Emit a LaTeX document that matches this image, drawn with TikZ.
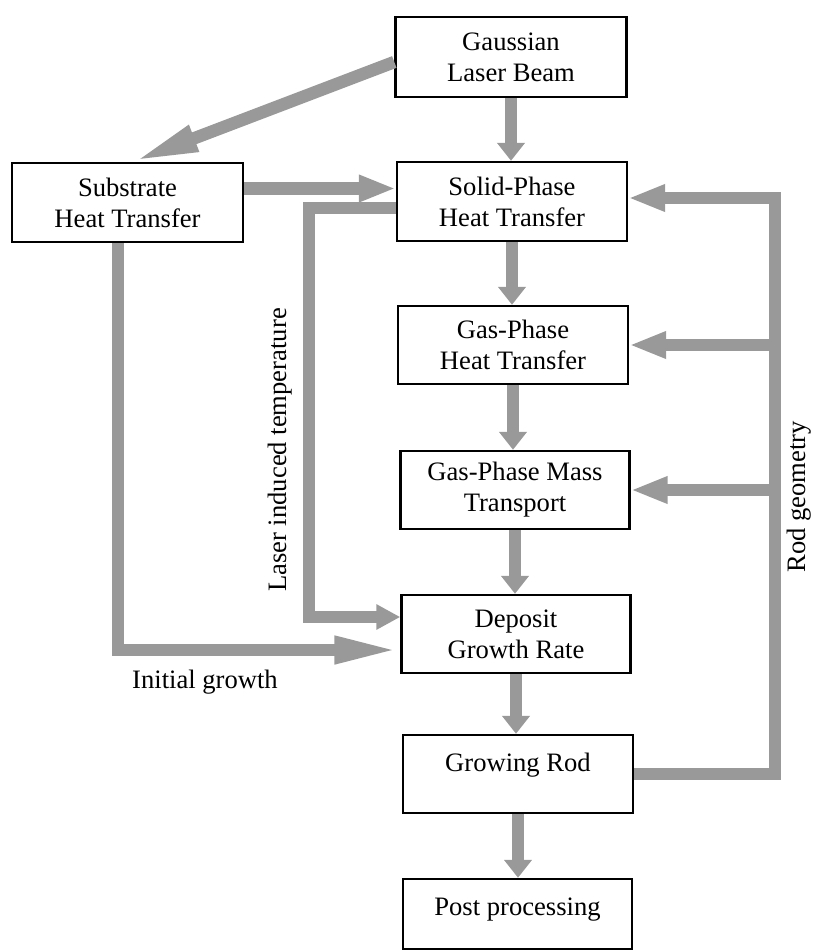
\documentclass[tikz,border=0pt]{standalone}
\usepackage{fontspec}
\setmainfont{Liberation Serif}
\usetikzlibrary{arrows.meta,calc}
\begin{document}
\begin{tikzpicture}[x=1pt,y=-1pt,
  box/.style={draw=black,line width=2.4pt,fill=white,inner sep=0pt,align=center,
    minimum width=230pt,minimum height=78pt,font=\fontsize{26.6}{31}\selectfont},
  flow/.style={draw=black!40,line width=12.5pt,line join=miter},
  tipdown/.style={flow,-{Triangle[length=18pt,width=27pt]}},
  tipside/.style={flow,-{Triangle[length=37pt,width=25pt]}},
  tiplong/.style={flow,-{Triangle[length=66pt,width=25pt]}},
  lbl/.style={font=\fontsize{26.6}{31}\selectfont}]
\useasboundingbox (0,0) rectangle (813,951);

% process blocks
\node[box,minimum width=231pt,minimum height=80pt] (gauss) at (511,57) {Gaussian\\Laser Beam};
\node[box,minimum width=231pt,minimum height=79pt] (subst) at (127.5,202.5) {Substrate\\Heat Transfer};
\node[box,minimum height=79pt] (solid) at (512,201.5) {Solid-Phase\\Heat Transfer};
\node[box] (gasht) at (513,345) {Gas-Phase\\Heat Transfer};
\node[box,minimum width=229pt] (mass) at (515,490) {Gas-Phase Mass\\Transport};
\node[box,minimum width=229pt] (depo) at (516,634) {Deposit\\Growth Rate};
\node[box,text depth=24pt] (rod) at (518,774) {Growing Rod};
\node[box,minimum width=229pt,minimum height=70pt,text depth=14pt] (post) at (517.5,914) {Post processing};

% bend points of the feedback paths
\coordinate (sh) at ($(subst.east)+(0,-14)$);
\coordinate (lt1) at (309,208);
\coordinate (lt2) at (309,617);
\coordinate (ig) at (118,650);
\coordinate (rg) at (775,198);

% main chain
\draw[tipdown] (gauss.south) -- (gauss.south |- solid.north);
\draw[tipdown] (solid.south) -- (solid.south |- gasht.north);
\draw[tipdown] (gasht.south) -- (gasht.south |- mass.north);
\draw[tipdown] (mass.south) -- (mass.south |- depo.north);
\draw[tipdown] (depo.south) -- (depo.south |- rod.north);
\draw[tipdown] (rod.south) -- (rod.south |- post.north);

% laser and substrate paths
\draw[tiplong] ($(gauss.west)+(0,5)$) -- ($(subst.north)+(5,0)$);
\draw[tipside] (sh) -- (sh -| solid.west);
\draw[flow,-{Triangle[length=24pt,width=24pt]}] (lt1 -| solid.west) -- (lt1) -- (lt2) -- (lt2 -| depo.west);
\draw[tiplong] (ig |- subst.south) -- (ig) -- (ig -| depo.west);

% rod geometry feedback
\draw[tipside] (rod.east) -- (rod.east -| rg) -- (rg) -- (rg -| solid.east);
\draw[tipside] (rg |- gasht.east) -- (gasht.east);
\draw[tipside] (rg |- mass.east) -- (mass.east);

% path labels
\node[lbl,rotate=90] (lit) at (280,450) {Laser induced temperature};
\node[lbl,rotate=90] (rgl) at (799,497) {Rod geometry};
\node[lbl,anchor=base] (igl) at (205,688) {Initial growth};
\end{tikzpicture}
\end{document}
